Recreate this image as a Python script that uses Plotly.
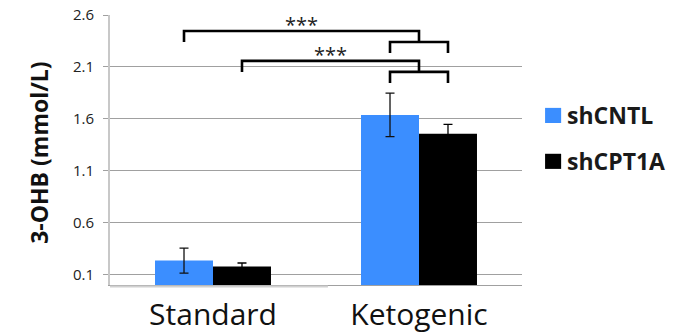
import plotly.graph_objects as go

# ---------------- data ----------------
categories = ["Standard", "Ketogenic"]
series_names = ["shCNTL", "shCPT1A"]
shCNTL_values = [0.235, 1.638]
shCNTL_errors = [0.12, 0.21]
shCPT1A_values = [0.177, 1.456]
shCPT1A_errors = [0.035, 0.09]
y_tick_values = [0.1, 0.6, 1.1, 1.6, 2.1, 2.6]
y_tick_labels = ["0.1", "0.6", "1.1", "1.6", "2.1", "2.6"]
y_title = "3-OHB (mmol/L)"
sig_label = "***"
# comparisons: (left category, left series index) vs right category (both series)
comparisons = [("Standard", 0, "Ketogenic"), ("Standard", 1, "Ketogenic")]
bracket_levels = [2.446, 2.158]

# ---------------- style ----------------
colors = ["#3b8eff", "#000000"]
err_colors = ["#111111", "#000000"]
FONT = "Open Sans"
bargap = 0.437
bar_half = (1 - bargap) / 4  # center offset of each bar inside a group
drop = 0.106

fig = go.Figure()
for name, vals, errs, col, ecol in zip(series_names,
                                       [shCNTL_values, shCPT1A_values],
                                       [shCNTL_errors, shCPT1A_errors],
                                       colors, err_colors):
    fig.add_trace(go.Bar(
        x=categories, y=vals, name=name,
        marker=dict(color=col, line=dict(width=0)),
        error_y=dict(type="data", array=errs, visible=True,
                     color=ecol, thickness=1.3, width=4.5),
        showlegend=False,
    ))

shapes = []
annotations = []
bl = dict(color="black", width=2.6)
for (lc, li, rc), lvl in zip(comparisons, bracket_levels):
    xl = categories.index(lc) + (-bar_half if li == 0 else bar_half)
    xr_c = categories.index(rc)
    xr_l = xr_c - bar_half
    xr_r = xr_c + bar_half
    # main bracket
    shapes.append(dict(type="path", xref="x", yref="y",
                       path=f"M {xl},{lvl - drop} L {xl},{lvl} L {xr_c},{lvl} L {xr_c},{lvl - drop}",
                       line=bl))
    # sub bracket over the right group
    shapes.append(dict(type="path", xref="x", yref="y",
                       path=f"M {xr_l},{lvl - 2 * drop} L {xr_l},{lvl - drop} L {xr_r},{lvl - drop} L {xr_r},{lvl - 2 * drop}",
                       line=bl))
    annotations.append(dict(x=(xl + xr_c) / 2, y=lvl, xref="x", yref="y",
                            text=sig_label, showarrow=False, yanchor="bottom",
                            yshift=-9, font=dict(family=FONT, size=20, color="#222")))

# light under-line on left part of base
shapes.append(dict(type="line", xref="paper", yref="paper", x0=0, x1=0.529,
                   y0=-0.006, y1=-0.006, line=dict(color="#d0d0d0", width=2)))

# manual legend
leg_y = [0.628, 0.458]
for name, col, yc in zip(series_names, colors, leg_y):
    shapes.append(dict(type="rect", xref="paper", yref="paper",
                       x0=1.056, x1=1.095, y0=yc - 0.028, y1=yc + 0.028,
                       fillcolor=col, line=dict(width=0)))
    annotations.append(dict(x=1.105, y=yc, xref="paper", yref="paper",
                            text=f"<b>{name}</b>", showarrow=False,
                            xanchor="left", yanchor="middle",
                            font=dict(family=FONT, size=23, color="#1a1a1a")))

# y-axis title
annotations.append(dict(x=-0.172, y=0.49, xref="paper", yref="paper",
                        text=f"<b>{y_title}</b>", textangle=-90, showarrow=False,
                        xanchor="center", yanchor="middle",
                        font=dict(family=FONT, size=23, color="#111")))

fig.update_layout(
    template="none",
    width=676, height=336,
    margin=dict(l=110, r=154, t=15, b=51),
    paper_bgcolor="white", plot_bgcolor="white",
    barmode="group", bargap=bargap, bargroupgap=0,
    shapes=shapes, annotations=annotations,
    xaxis=dict(type="category", range=[-0.5, 1.5], showgrid=False,
               showline=True, linecolor="#a0a0a0", linewidth=1, ticks="",
               automargin=False, ticklabelstandoff=3,
               tickfont=dict(family=FONT, size=30, color="#111")),
    yaxis=dict(range=[0, 2.6], tickvals=y_tick_values, ticktext=y_tick_labels,
               showgrid=True, gridcolor="#a0a0a0", gridwidth=1,
               ticks="outside", ticklen=5, tickcolor="#a0a0a0",
               showline=True, linecolor="#c8c8c8", linewidth=2,
               zeroline=False, ticklabelstandoff=6, automargin=False,
               tickfont=dict(family=FONT, size=15, color="#222")),
)

fig.write_html("out.html")
